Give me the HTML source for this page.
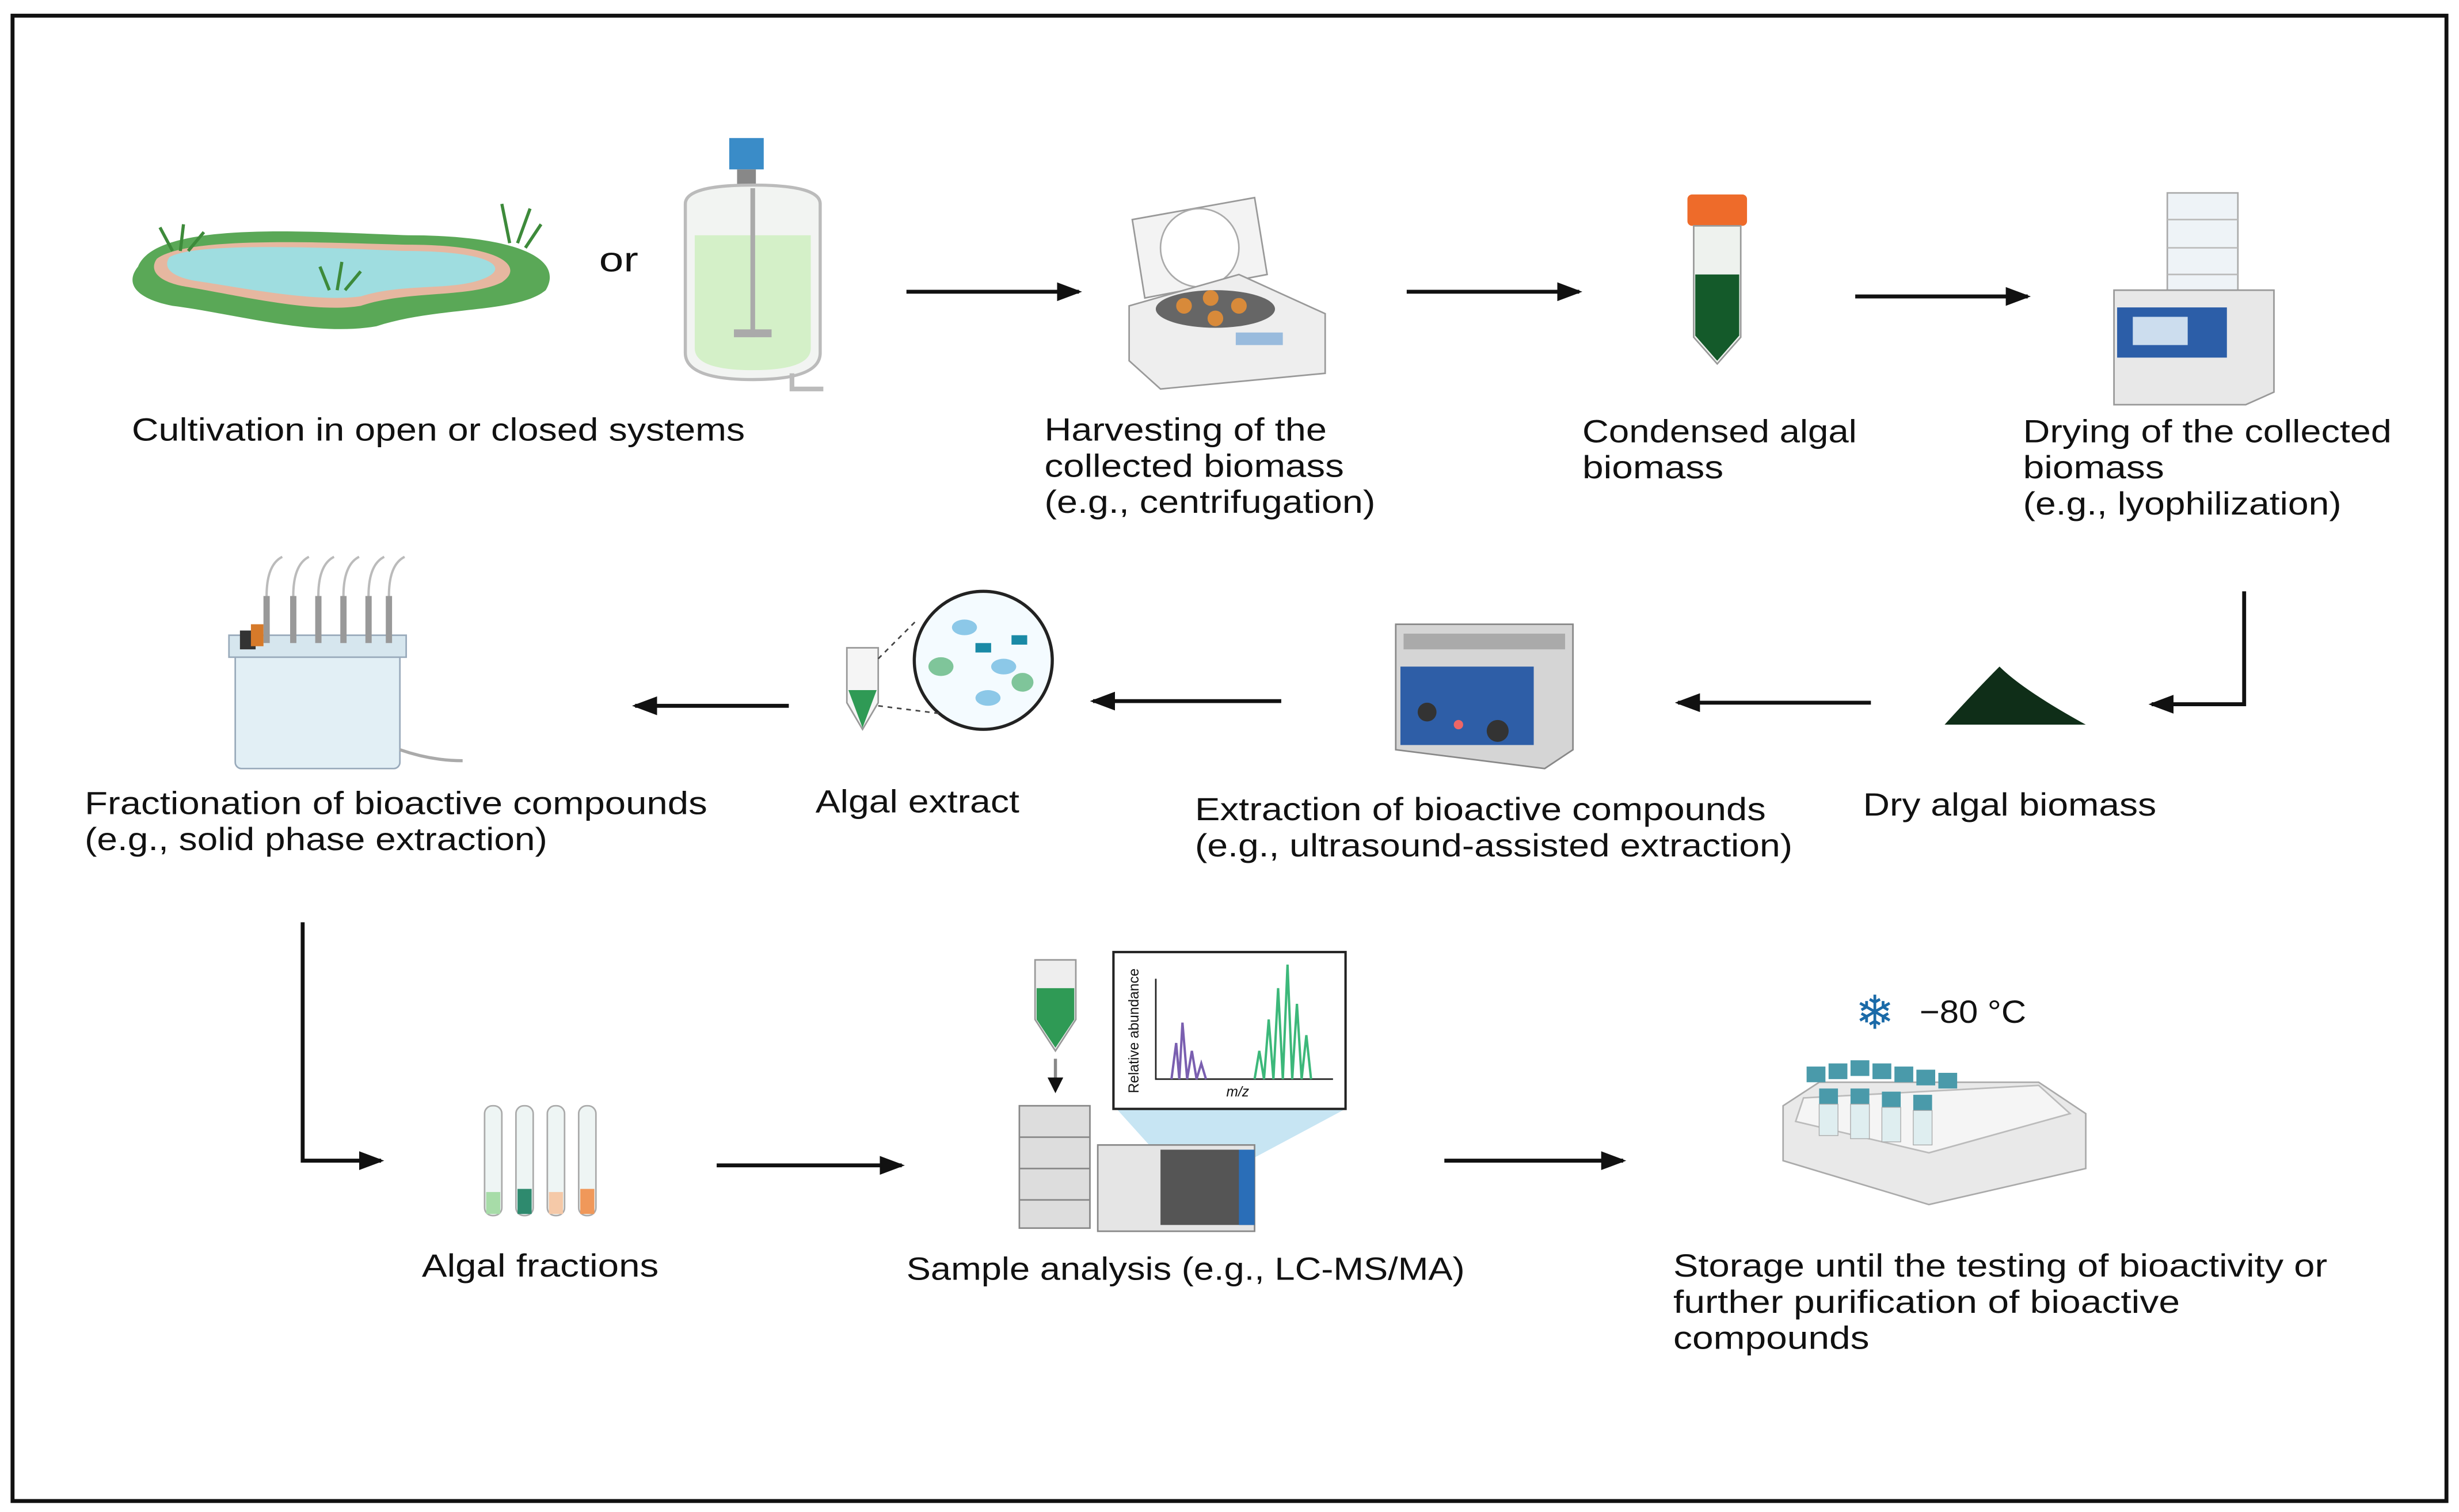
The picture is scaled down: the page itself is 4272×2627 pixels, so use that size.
<!DOCTYPE html>
<html><head><meta charset="utf-8"><style>
html,body{margin:0;padding:0;background:#fff;width:4272px;height:2627px;overflow:hidden}
svg{display:block}
text{font-family:"Liberation Sans",sans-serif;font-size:20.5px;fill:#111}
</style></head><body>
<svg width="4272" height="2627" viewBox="0 0 1568 964" preserveAspectRatio="none" xmlns="http://www.w3.org/2000/svg">
<defs><marker id="ah" markerWidth="10" markerHeight="10" refX="8" refY="5" orient="auto" markerUnits="userSpaceOnUse"><path d="M0,0 L10,5 L0,10 Z" fill="#111"/></marker>
<marker id="a2" markerWidth="16" markerHeight="12" refX="14" refY="6" orient="auto" markerUnits="userSpaceOnUse"><path d="M0,0 L16,6 L0,12 Z" fill="#111"/></marker></defs>
<rect x="8" y="10" width="1552" height="947" fill="#fff" stroke="#111" stroke-width="2.5"/>
<g stroke="#111" stroke-width="2.5" fill="none" marker-end="url(#a2)">
<line x1="578" y1="186" x2="688" y2="186"/><line x1="897" y1="186" x2="1007" y2="186"/><line x1="1183" y1="189" x2="1293" y2="189"/>
<polyline points="1431,377 1431,449 1372,449"/>
<line x1="1193" y1="448" x2="1070" y2="448"/><line x1="817" y1="447" x2="697" y2="447"/><line x1="503" y1="450" x2="405" y2="450"/>
<polyline points="193,588 193,740 243,740"/>
<line x1="457" y1="743" x2="575" y2="743"/><line x1="921" y1="740" x2="1035" y2="740"/>
</g>
<!-- pond -->
<path d="M88,170 C100,140 200,148 260,150 C330,150 360,165 348,185 C330,200 280,195 240,208 C200,215 150,200 110,195 C85,190 80,180 88,170Z" fill="#5aa857"/>
<path d="M100,165 C120,150 210,155 260,156 C320,156 335,170 320,180 C300,190 260,185 230,195 C200,200 150,188 120,183 C100,180 95,172 100,165Z" fill="#e6b7a0"/>
<path d="M108,164 C125,154 210,158 258,160 C312,160 325,170 310,177 C290,186 258,180 230,189 C200,193 152,183 124,179 C108,176 104,170 108,164Z" fill="#9fdde0"/>
<g stroke="#3d8a3a" stroke-width="2"><path d="M110,160 l-8,-15 M115,160 l2,-17 M120,160 l10,-12 M325,155 l-5,-25 M330,155 l8,-22 M335,158 l10,-15 M210,185 l-6,-15 M215,185 l3,-18 M220,185 l10,-12"/></g>
<text x="382" y="173" style="font-size:22px" textLength="25" lengthAdjust="spacingAndGlyphs">or</text>
<!-- bioreactor -->
<rect x="465" y="88" width="22" height="20" fill="#3a8cc8"/><rect x="470" y="108" width="12" height="12" fill="#888"/>
<path d="M437,130 Q437,118 480,118 Q523,118 523,130 L523,225 Q523,242 480,242 Q437,242 437,225Z" fill="#f2f4f2" stroke="#bbb" stroke-width="2"/>
<path d="M443,150 L517,150 L517,222 Q517,236 480,236 Q443,236 443,222Z" fill="#d4f0c8"/>
<line x1="480" y1="120" x2="480" y2="215" stroke="#aaa" stroke-width="3"/><rect x="468" y="210" width="24" height="5" fill="#aaa"/>
<path d="M505,238 L505,248 L525,248" stroke="#bbb" stroke-width="3" fill="none"/>
<text x="84" y="281" textLength="391" lengthAdjust="spacingAndGlyphs">Cultivation in open or closed systems</text>
<!-- centrifuge -->
<path d="M722,140 L800,126 L808,175 L730,190Z" fill="#f3f3f3" stroke="#999"/><circle cx="765" cy="158" r="25" fill="#fff" stroke="#aaa"/>
<path d="M720,195 L790,175 L845,200 L845,238 L740,248 L720,230Z" fill="#eee" stroke="#999"/>
<ellipse cx="775" cy="197" rx="38" ry="12" fill="#666"/><g fill="#d88a3a"><circle cx="755" cy="195" r="5"/><circle cx="772" cy="190" r="5"/><circle cx="790" cy="195" r="5"/><circle cx="775" cy="203" r="5"/></g>
<rect x="788" y="212" width="30" height="8" fill="#9bd"/>
<text x="666" y="281" textLength="180" lengthAdjust="spacingAndGlyphs">Harvesting of the</text><text x="666" y="304" textLength="191" lengthAdjust="spacingAndGlyphs">collected biomass</text><text x="666" y="327" textLength="211" lengthAdjust="spacingAndGlyphs">(e.g., centrifugation)</text>
<!-- tube -->
<rect x="1076" y="124" width="38" height="20" rx="3" fill="#ee6b2a"/>
<path d="M1080,144 L1110,144 L1110,215 L1095,232 L1080,215Z" fill="#eef2ee" stroke="#999"/>
<path d="M1081,175 L1109,175 L1109,214 L1095,230 L1081,214Z" fill="#145a2a"/>
<text x="1009" y="282" textLength="175" lengthAdjust="spacingAndGlyphs">Condensed algal</text><text x="1009" y="305" textLength="90" lengthAdjust="spacingAndGlyphs">biomass</text>
<!-- lyophilizer -->
<rect x="1382" y="123" width="45" height="70" fill="#eef3f7" stroke="#aaa"/><g stroke="#bbb"><line x1="1382" y1="140" x2="1427" y2="140"/><line x1="1382" y1="158" x2="1427" y2="158"/><line x1="1382" y1="175" x2="1427" y2="175"/></g>
<path d="M1348,185 L1450,185 L1450,250 L1432,258 L1348,258Z" fill="#e8e8e8" stroke="#999"/>
<rect x="1350" y="196" width="70" height="32" fill="#2c5ea8"/><rect x="1360" y="202" width="35" height="18" fill="#cde"/>
<text x="1290" y="282" textLength="235" lengthAdjust="spacingAndGlyphs">Drying of the collected</text><text x="1290" y="305" textLength="90" lengthAdjust="spacingAndGlyphs">biomass</text><text x="1290" y="328" textLength="203" lengthAdjust="spacingAndGlyphs">(e.g., lyophilization)</text>
<!-- dry biomass -->
<path d="M1240,462 Q1260,440 1275,425 Q1290,440 1330,462Z" fill="#0f2e18"/>
<text x="1188" y="520" textLength="187" lengthAdjust="spacingAndGlyphs">Dry algal biomass</text>
<!-- ultrasound -->
<path d="M890,398 L1003,398 L1003,478 L985,490 L890,478Z" fill="#d5d5d5" stroke="#888"/>
<rect x="895" y="404" width="103" height="10" fill="#aaa"/>
<rect x="893" y="425" width="85" height="50" fill="#2e5ea7"/>
<circle cx="910" cy="454" r="6" fill="#333"/><circle cx="955" cy="466" r="7" fill="#333"/><circle cx="930" cy="462" r="3" fill="#e66"/>
<text x="762" y="523" textLength="364" lengthAdjust="spacingAndGlyphs">Extraction of bioactive compounds</text><text x="762" y="546" textLength="381" lengthAdjust="spacingAndGlyphs">(e.g., ultrasound-assisted extraction)</text>
<!-- extract -->
<path d="M540,413 L560,413 L560,448 L550,465 L540,448Z" fill="#f5f5f5" stroke="#999"/><path d="M541,440 L559,440 L550,464Z" fill="#2f9a55"/>
<circle cx="627" cy="421" r="44" fill="#f4fbff" stroke="#222" stroke-width="2"/>
<g fill="#8cc8e8"><ellipse cx="615" cy="400" rx="8" ry="5"/><ellipse cx="640" cy="425" rx="8" ry="5"/><ellipse cx="630" cy="445" rx="8" ry="5"/></g>
<g fill="#7fc59a"><ellipse cx="600" cy="425" rx="8" ry="6"/><ellipse cx="652" cy="435" rx="7" ry="6"/></g>
<g fill="#1a8aa6"><rect x="622" y="410" width="10" height="6"/><rect x="645" y="405" width="10" height="6"/></g>
<line x1="560" y1="420" x2="585" y2="395" stroke="#444" stroke-dasharray="3,3"/><line x1="560" y1="450" x2="600" y2="455" stroke="#444" stroke-dasharray="3,3"/>
<text x="520" y="518" textLength="130" lengthAdjust="spacingAndGlyphs">Algal extract</text>
<!-- SPE -->
<rect x="150" y="410" width="105" height="80" rx="4" fill="#e2eff5" stroke="#9ab"/>
<rect x="146" y="405" width="113" height="14" fill="#d6e6ee" stroke="#9ab"/>
<g stroke="#999" stroke-width="4"><line x1="170" y1="380" x2="170" y2="410"/><line x1="187" y1="380" x2="187" y2="410"/><line x1="203" y1="380" x2="203" y2="410"/><line x1="219" y1="380" x2="219" y2="410"/><line x1="235" y1="380" x2="235" y2="410"/><line x1="248" y1="380" x2="248" y2="410"/></g>
<g stroke="#bbb" stroke-width="1.5" fill="none"><path d="M170,380 q0,-20 10,-25 M187,380 q0,-20 10,-25 M203,380 q0,-20 10,-25 M219,380 q0,-20 10,-25 M235,380 q0,-20 10,-25 M248,380 q0,-20 10,-25"/></g>
<rect x="153" y="402" width="10" height="12" fill="#333"/><rect x="160" y="398" width="8" height="14" fill="#d67a2a"/>
<path d="M255,478 Q275,485 295,485" stroke="#aaa" stroke-width="2" fill="none"/>
<text x="54" y="519" textLength="397" lengthAdjust="spacingAndGlyphs">Fractionation of bioactive compounds</text><text x="54" y="542" textLength="295" lengthAdjust="spacingAndGlyphs">(e.g., solid phase extraction)</text>
<!-- fractions -->
<g stroke="#aaa" fill="#eef5f4"><rect x="309" y="705" width="11" height="70" rx="5"/><rect x="329" y="705" width="11" height="70" rx="5"/><rect x="349" y="705" width="11" height="70" rx="5"/><rect x="369" y="705" width="11" height="70" rx="5"/></g>
<rect x="310" y="760" width="9" height="14" fill="#a7dca8"/><rect x="330" y="758" width="9" height="16" fill="#2e8a6e"/><rect x="350" y="760" width="9" height="14" fill="#f5c9a8"/><rect x="370" y="758" width="9" height="16" fill="#f0985a"/>
<text x="269" y="814" textLength="151" lengthAdjust="spacingAndGlyphs">Algal fractions</text>
<!-- LC-MS -->
<path d="M660,612 L686,612 L686,650 L673,670 L660,650Z" fill="#eee" stroke="#999"/><path d="M661,630 L685,630 L685,650 L673,668 L661,650Z" fill="#2f9a55"/>
<line x1="673" y1="675" x2="673" y2="695" stroke="#888" stroke-width="2" marker-end="url(#ah)"/>
<rect x="650" y="705" width="45" height="78" fill="#ddd" stroke="#888"/><g stroke="#888"><line x1="650" y1="725" x2="695" y2="725"/><line x1="650" y1="745" x2="695" y2="745"/><line x1="650" y1="765" x2="695" y2="765"/></g>
<path d="M712,707 L858,707 L800,738 L740,738Z" fill="#b9dff0" opacity=".8"/>
<rect x="700" y="730" width="100" height="55" fill="#e5e5e5" stroke="#888"/><rect x="740" y="733" width="60" height="48" fill="#555"/><rect x="790" y="733" width="10" height="48" fill="#2a6eb8"/>
<rect x="710" y="607" width="148" height="100" fill="#fff" stroke="#222" stroke-width="1.5"/>
<path d="M737,624 L737,688 L850,688" stroke="#222" fill="none"/>
<path d="M747,688 L750,665 L752,688 L754,652 L757,688 L760,670 L763,688 L766,678 L769,688" stroke="#7a5fb0" fill="none" stroke-width="1.5"/>
<path d="M800,688 L803,670 L806,688 L809,650 L812,688 L815,630 L818,688 L821,615 L824,688 L827,640 L830,688 L833,660 L836,688" stroke="#3cb87a" fill="none" stroke-width="1.5"/>
<text x="782" y="699" style="font-size:9px;font-style:italic">m/z</text>
<text transform="translate(726,697) rotate(-90)" style="font-size:9px">Relative abundance</text>
<text x="578" y="816" textLength="356" lengthAdjust="spacingAndGlyphs">Sample analysis (e.g., LC-MS/MA)</text>
<!-- storage -->
<text x="1183" y="656" style="font-size:30px;fill:#1a6aa8">❄</text><text x="1224" y="652" textLength="68" lengthAdjust="spacingAndGlyphs">−80 °C</text>
<path d="M1160,690 L1300,690 L1330,710 L1330,745 L1230,768 L1137,740 L1137,705Z" fill="#e9e9e9" stroke="#aaa"/>
<path d="M1150,700 L1300,692 L1320,710 L1230,735 L1145,715Z" fill="#f5f5f5" stroke="#bbb"/>
<g fill="#4a9aaa">
<rect x="1152" y="680" width="12" height="10"/><rect x="1166" y="678" width="12" height="10"/><rect x="1180" y="676" width="12" height="10"/><rect x="1194" y="678" width="12" height="10"/><rect x="1208" y="680" width="12" height="10"/><rect x="1222" y="682" width="12" height="10"/><rect x="1236" y="684" width="12" height="10"/>
<rect x="1160" y="694" width="12" height="10"/><rect x="1180" y="694" width="12" height="10"/><rect x="1200" y="696" width="12" height="10"/><rect x="1220" y="698" width="12" height="10"/>
</g>
<g fill="#dfeef0" stroke="#aaa" stroke-width=".5"><rect x="1160" y="704" width="12" height="20"/><rect x="1180" y="704" width="12" height="22"/><rect x="1200" y="706" width="12" height="22"/><rect x="1220" y="708" width="12" height="22"/></g>
<text x="1067" y="814" textLength="417" lengthAdjust="spacingAndGlyphs">Storage until the testing of bioactivity or</text><text x="1067" y="837" textLength="323" lengthAdjust="spacingAndGlyphs">further purification of bioactive</text><text x="1067" y="860" textLength="125" lengthAdjust="spacingAndGlyphs">compounds</text>
</svg>
</body></html>
